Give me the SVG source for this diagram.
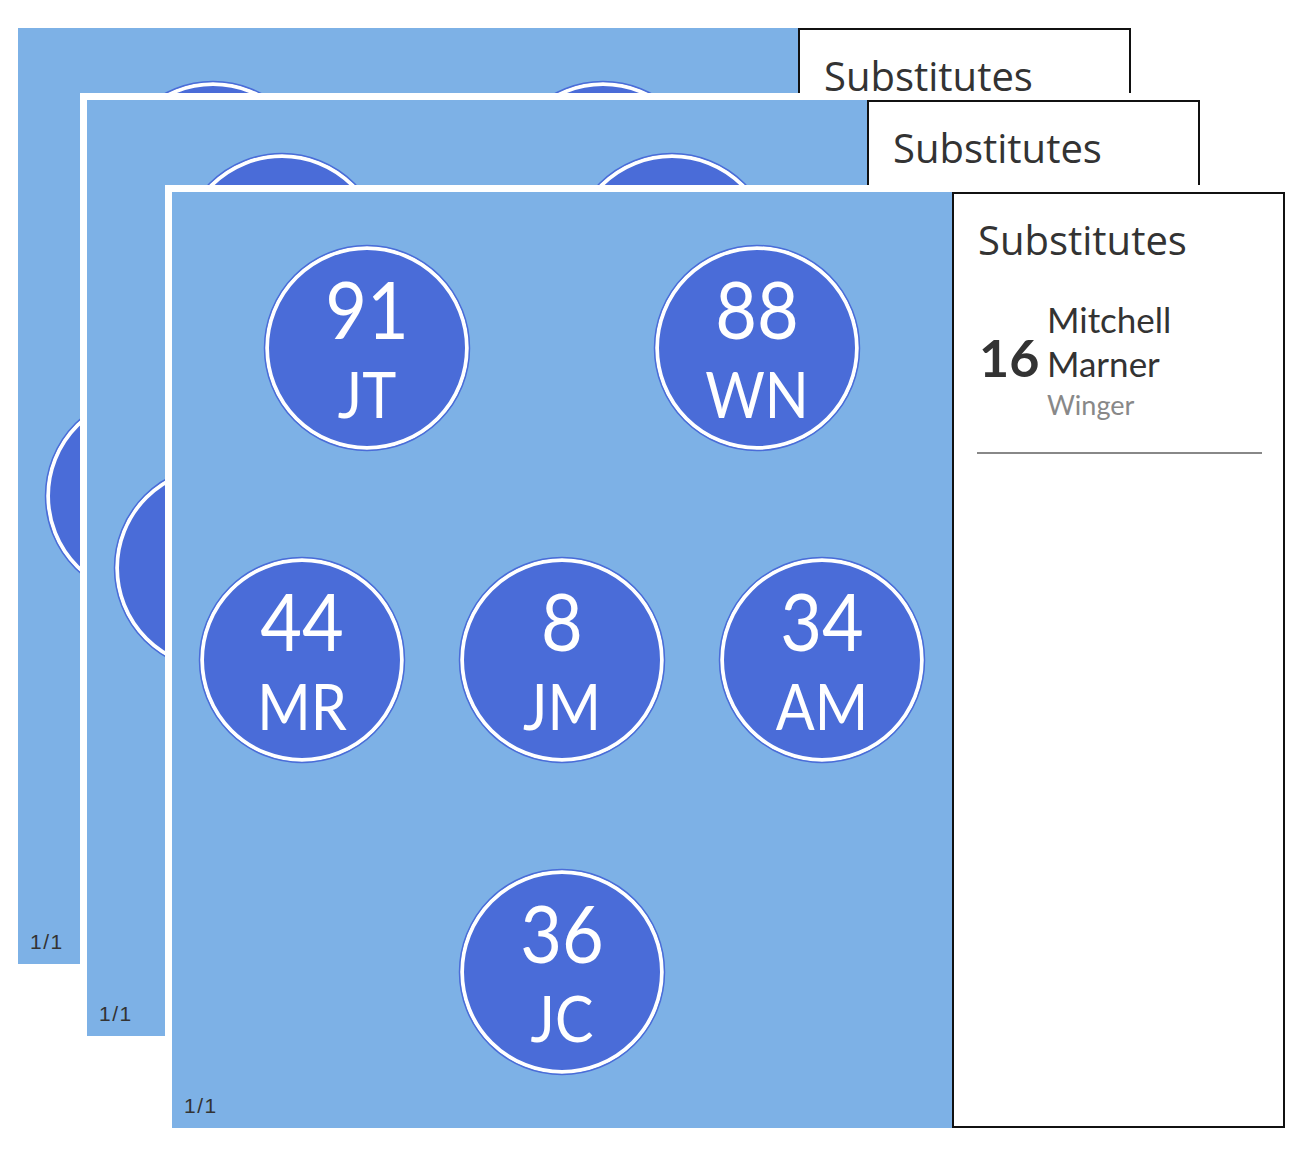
<svg xmlns="http://www.w3.org/2000/svg" width="1312" height="1152" viewBox="0 0 1312 1152">
  <style>
    .frame { fill: #ffffff; }
    .pitch { fill: #7db1e6; }
    .panel { fill: #ffffff; stroke: #111111; stroke-width: 2; }
    .title { font-family: "Open Sans", "Liberation Sans", sans-serif; font-size: 40px; fill: #333333; }
    .page { font-family: "Liberation Sans", Arial, sans-serif; font-size: 21px; letter-spacing: 1.5px; fill: #333333; }
    .disc { fill: #4a6cd8; stroke: #ffffff; stroke-width: 4; }
    .rim { fill: none; stroke: #4a6cd8; stroke-width: 1.5; }
    .num { font-family: Lato, "Noto Sans", sans-serif; font-size: 80px; fill: #ffffff; text-anchor: middle; }
    .ini { font-family: Lato, "Noto Sans", sans-serif; font-size: 64px; fill: #ffffff; text-anchor: middle; }
    .subnum { font-family: Lato, "Noto Sans", sans-serif; font-size: 52px; font-weight: bold; fill: #333333; }
    .subname { font-family: Lato, "Noto Sans", sans-serif; font-size: 35px; fill: #333333; }
    .subpos { font-family: Lato, "Noto Sans", sans-serif; font-size: 27px; fill: #888888; }
    .rule { stroke: #888888; stroke-width: 2; }
  </style>

  <!-- Card 1 (back) -->
  <g id="card1" transform="translate(18,28)">
    <rect class="frame" x="-7" y="-7" width="1127" height="950"/>
    <rect class="pitch" x="0" y="0" width="780" height="936"/>
    <g id="card1-player-91"><circle class="disc" cx="195" cy="156" r="100"/><circle class="rim" cx="195" cy="156" r="102.5"/></g>
    <g id="card1-player-88"><circle class="disc" cx="585" cy="156" r="100"/><circle class="rim" cx="585" cy="156" r="102.5"/></g>
    <g id="card1-player-44"><circle class="disc" cx="130" cy="468" r="100"/><circle class="rim" cx="130" cy="468" r="102.5"/></g>
    <text class="page" x="12" y="921">1/1</text>
    <g id="card1-panel">
      <rect class="panel" x="781" y="1" width="331" height="934"/>
      <text class="title" x="806" y="63">Substitutes</text>
    </g>
  </g>

  <!-- Card 2 (middle) -->
  <g id="card2" transform="translate(87,100)">
    <rect class="frame" x="-7" y="-7" width="1127" height="950"/>
    <rect class="pitch" x="0" y="0" width="780" height="936"/>
    <g id="card2-player-91"><circle class="disc" cx="195" cy="156" r="100"/><circle class="rim" cx="195" cy="156" r="102.5"/></g>
    <g id="card2-player-88"><circle class="disc" cx="585" cy="156" r="100"/><circle class="rim" cx="585" cy="156" r="102.5"/></g>
    <g id="card2-player-44"><circle class="disc" cx="130" cy="468" r="100"/><circle class="rim" cx="130" cy="468" r="102.5"/></g>
    <text class="page" x="12" y="921">1/1</text>
    <g id="card2-panel">
      <rect class="panel" x="781" y="1" width="331" height="934"/>
      <text class="title" x="806" y="63">Substitutes</text>
    </g>
  </g>

  <!-- Card 3 (front) -->
  <g id="card3" transform="translate(172,192)">
    <rect class="frame" x="-7" y="-7" width="1127" height="950"/>
    <rect class="pitch" x="0" y="0" width="780" height="936"/>
    <g id="player-91">
      <circle class="disc" cx="195" cy="156" r="100"/><circle class="rim" cx="195" cy="156" r="102.5"/>
      <text class="num" x="195" y="147" transform="translate(195 0) scale(0.9 1) translate(-195 0)">91</text>
      <text class="ini" x="195" y="226" transform="translate(195 0) scale(0.9 1) translate(-195 0)">JT</text>
    </g>
    <g id="player-88">
      <circle class="disc" cx="585" cy="156" r="100"/><circle class="rim" cx="585" cy="156" r="102.5"/>
      <text class="num" x="585" y="147" transform="translate(585 0) scale(0.9 1) translate(-585 0)">88</text>
      <text class="ini" x="585" y="226" transform="translate(585 0) scale(0.9 1) translate(-585 0)">WN</text>
    </g>
    <g id="player-44">
      <circle class="disc" cx="130" cy="468" r="100"/><circle class="rim" cx="130" cy="468" r="102.5"/>
      <text class="num" x="130" y="459" transform="translate(130 0) scale(0.9 1) translate(-130 0)">44</text>
      <text class="ini" x="130" y="538" transform="translate(130 0) scale(0.9 1) translate(-130 0)">MR</text>
    </g>
    <g id="player-8">
      <circle class="disc" cx="390" cy="468" r="100"/><circle class="rim" cx="390" cy="468" r="102.5"/>
      <text class="num" x="390" y="459" transform="translate(390 0) scale(0.9 1) translate(-390 0)">8</text>
      <text class="ini" x="390" y="538" transform="translate(390 0) scale(0.9 1) translate(-390 0)">JM</text>
    </g>
    <g id="player-34">
      <circle class="disc" cx="650" cy="468" r="100"/><circle class="rim" cx="650" cy="468" r="102.5"/>
      <text class="num" x="650" y="459" transform="translate(650 0) scale(0.9 1) translate(-650 0)">34</text>
      <text class="ini" x="650" y="538" transform="translate(650 0) scale(0.9 1) translate(-650 0)">AM</text>
    </g>
    <g id="player-36">
      <circle class="disc" cx="390" cy="780" r="100"/><circle class="rim" cx="390" cy="780" r="102.5"/>
      <text class="num" x="390" y="771" transform="translate(390 0) scale(0.9 1) translate(-390 0)">36</text>
      <text class="ini" x="390" y="850" transform="translate(390 0) scale(0.9 1) translate(-390 0)">JC</text>
    </g>
    <text class="page" x="12" y="921">1/1</text>
    <g id="card3-panel">
      <rect class="panel" x="781" y="1" width="331" height="934"/>
      <text class="title" x="806" y="63">Substitutes</text>
      <g id="sub-16">
        <text class="subnum" x="807" y="185">16</text>
        <text class="subname" x="875" y="141">Mitchell</text>
        <text class="subname" x="875" y="185">Marner</text>
        <text class="subpos" x="875" y="223">Winger</text>
        <line class="rule" x1="805" y1="261" x2="1090" y2="261"/>
      </g>
    </g>
  </g>
</svg>
